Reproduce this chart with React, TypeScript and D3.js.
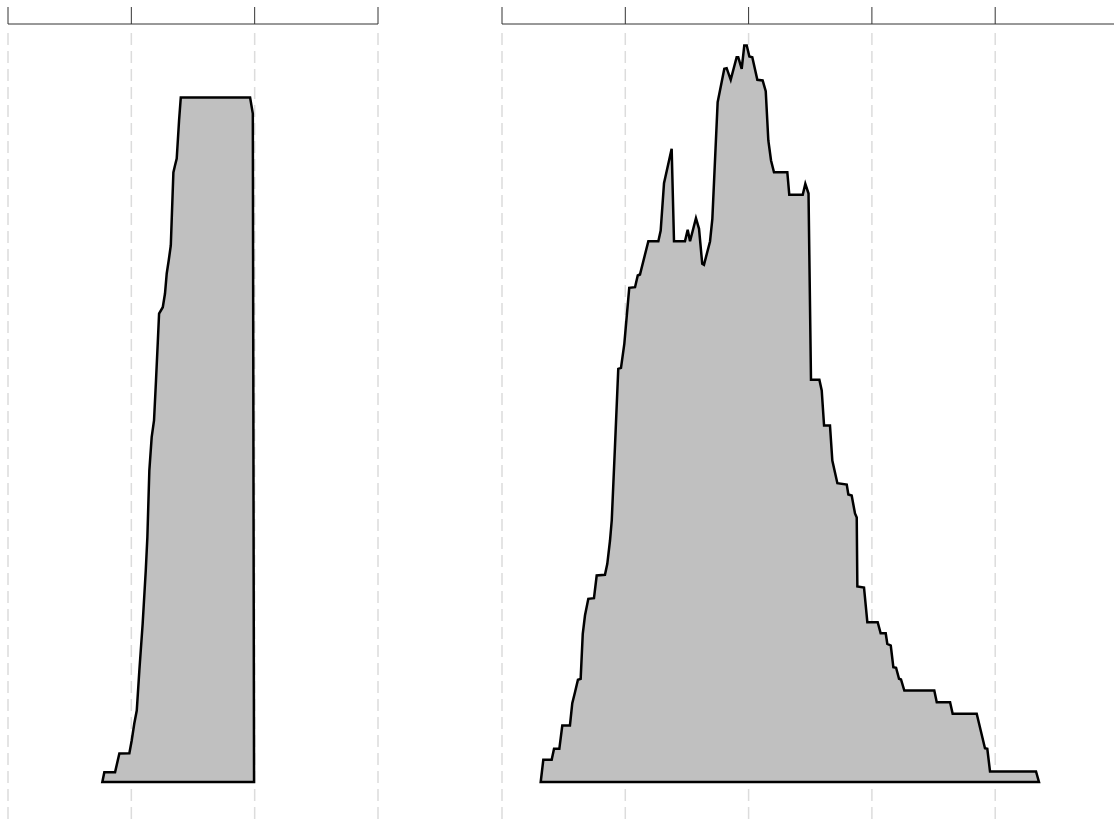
import React from "react";
import * as d3 from "d3";

// Left panel: x in axis units, y in height units
const leftX = [0.765, 0.781, 0.868, 0.903, 0.984, 1.003, 1.024, 1.044, 1.065, 1.092, 1.117, 1.13, 1.146, 1.165, 1.184, 1.2, 1.214, 1.225, 1.255, 1.273, 1.287, 1.303, 1.32, 1.328, 1.341, 1.354, 1.368, 1.387, 1.401, 1.963, 1.985, 1.995];
const leftY = [0, 9.8, 9.8, 28.5, 28.8, 41.5, 58.5, 71.5, 111.5, 158.5, 211.5, 244.8, 311.5, 344.8, 361.5, 401.5, 438.5, 468.5, 474.8, 488.5, 508.5, 521.5, 536.5, 564.5, 609.5, 616.5, 623.5, 661.5, 684.5, 684.5, 668.5, 0];

const rightX = [0.314, 0.335, 0.403, 0.422, 0.465, 0.489, 0.551, 0.57, 0.592, 0.616, 0.638, 0.655, 0.673, 0.7, 0.746, 0.768, 0.835, 0.854, 0.876, 0.89, 0.916, 0.943, 0.965, 0.992, 1.011, 1.032, 1.079, 1.101, 1.119, 1.187, 1.268, 1.287, 1.314, 1.376, 1.395, 1.484, 1.506, 1.525, 1.573, 1.598, 1.624, 1.638, 1.687, 1.706, 1.749, 1.803, 1.822, 1.855, 1.903, 1.916, 1.944, 1.965, 1.985, 2.006, 2.03, 2.071, 2.114, 2.139, 2.16, 2.182, 2.206, 2.314, 2.33, 2.439, 2.46, 2.486, 2.506, 2.574, 2.593, 2.612, 2.66, 2.679, 2.72, 2.796, 2.809, 2.836, 2.863, 2.877, 2.882, 2.936, 2.963, 3.047, 3.071, 3.112, 3.125, 3.153, 3.174, 3.196, 3.22, 3.236, 3.263, 3.506, 3.526, 3.634, 3.655, 3.85, 3.917, 3.936, 3.958, 4.331, 4.355];
const rightY = [0, 22.2, 22.2, 33.2, 33.2, 56.5, 56.5, 78.8, 89.8, 102.2, 103.2, 148.2, 166.5, 183.2, 183.8, 206.5, 207.2, 218.2, 241.5, 261.5, 334.8, 413.2, 414.2, 438.2, 464.8, 494.2, 494.8, 506.5, 507.5, 540.8, 540.8, 551.5, 598.8, 633.2, 540.8, 540.8, 552.2, 540.8, 563.8, 553.2, 518.2, 517.2, 540.5, 563.2, 679.8, 713.2, 713.8, 702.2, 724.8, 724.8, 713.2, 736.5, 736.5, 725.5, 724.8, 702.2, 701.5, 690.8, 641.5, 621.5, 609.8, 609.8, 587.2, 587.2, 598.2, 588.5, 402.2, 402.2, 391.5, 356.5, 356.5, 321.5, 298.8, 297.5, 287.5, 286.5, 268.5, 264.5, 195.5, 194.5, 159.8, 159.8, 148.8, 148.8, 138.2, 136.5, 114.8, 114.2, 103.2, 102.5, 91.5, 91.5, 79.8, 79.8, 68.2, 68.2, 33.8, 33.2, 10.5, 10.5, 0];

const leftTicks = [0, 1, 2, 3];
const rightTicks = [0, 1, 2, 3, 4, 5];

const W = 1114;
const H = 823;
const baseY = 782;
const yScale = d3.scaleLinear().domain([0, 760]).range([baseY, baseY - 760]);

function Panel({ xs, ys, ticks, x0, x1, lineEnd }: any) {
  const dom = [ticks[0], ticks[ticks.length - 1]];
  const x = d3.scaleLinear().domain(dom).range([x0, x1]);
  const pts = xs.map((v: number, i: number) => [v, ys[i]] as [number, number]);
  const area = d3
    .area<[number, number]>()
    .x((d) => x(d[0]))
    .y0(yScale(0))
    .y1((d) => yScale(d[1]))
    .curve(d3.curveLinear);
  return (
    <g>
      {ticks.map((t: number) => (
        <line key={"g" + t} x1={x(t)} x2={x(t)} y1={33} y2={H} stroke="#dcdcdc" strokeWidth={1.5} strokeDasharray="12,6" />
      ))}
      <line x1={x0} x2={lineEnd ?? x1} y1={24} y2={24} stroke="#333" strokeWidth={1} />
      {ticks.map((t: number) => (
        <line key={"t" + t} x1={x(t)} x2={x(t)} y1={7} y2={24} stroke="#333" strokeWidth={1} />
      ))}
      <path d={area(pts) || ""} fill="#c0c0c0" stroke="#000" strokeWidth={2.5} strokeLinejoin="miter" strokeMiterlimit={4} />
    </g>
  );
}

export default function App() {
  return (
    <svg width={W} height={H} style={{ position: "absolute", left: 0, top: 0, background: "#fff" }}>
      <Panel xs={leftX} ys={leftY} ticks={leftTicks} x0={8} x1={378} />
      <Panel xs={rightX} ys={rightY} ticks={rightTicks} x0={502} x1={1118.5} lineEnd={W} />
    </svg>
  );
}
